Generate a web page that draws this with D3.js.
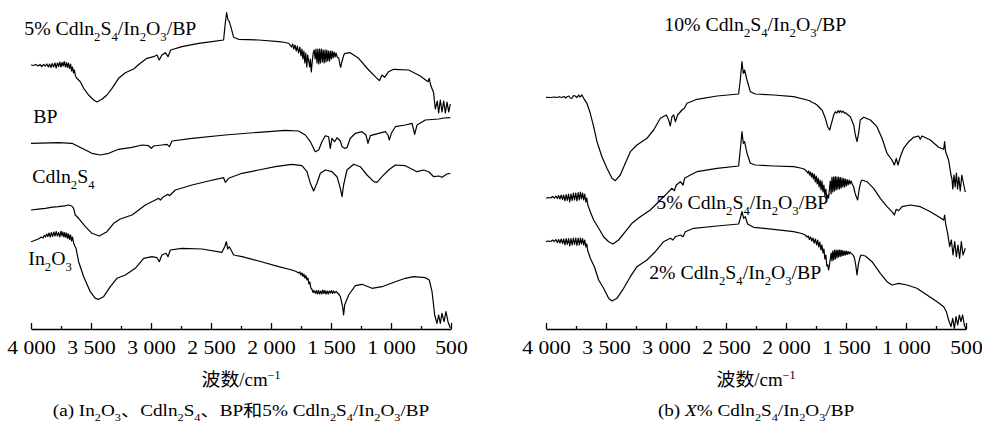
<!DOCTYPE html>
<html>
  <head>
    <meta charset="utf-8">
    <title>FTIR spectra</title>
<style>
  body { margin: 0; background-color: #fff; }
  #viz { width: 982px; height: 427px; }
  #viz text { font-family: "Liberation Serif", "Noto Sans CJK SC", serif; fill: #000; }
  #viz .curve { fill: none; stroke: #000; stroke-width: 1.2; stroke-linejoin: round; }
  #viz .axis path, #viz .axis line { stroke: #000; stroke-width: 1.3; }
</style>
  </head>
  <body>
    <div id="viz"></div>

  <script src="https://cdn.jsdelivr.net/npm/d3@7/dist/d3.min.js"></script>
  <script>

    // wavenumber ticks (cm-1)
    var wnTicks = [4000, 3500, 3000, 2500, 2000, 1500, 1000, 500];
    var wnMinor = [3750, 3250, 2750, 2250, 1750, 1250, 750];

    // spectra: [wavenumber, transmittance (a.u., offset)]
    // (a) panel
    var spec5a = [[4000,264],[3980,263.5],[3960,264.5],[3940,263],[3925,264.5],[3910,262.5],[3895,264.5],[3880,263],
      [3868,265],[3856,262],[3845,265],[3834,261.5],[3823,265.5],[3812,262],[3800,266],[3790,261],[3780,266],[3770,262.5],
      [3760,267],[3750,262],[3741,266.5],[3732,263],[3723,267.5],[3714,262],[3705,266.5],[3696,261.5],[3688,266],
      [3679,260.5],[3670,265],[3662,258],[3654,262],[3646,256],[3638,259],[3630,253],[3620,251],[3589,247.3],[3561,240.7],
      [3520,234],[3478,229],[3450,227],[3409,229.7],[3367,234],[3325,240.7],[3270,250.7],[3214,256.3],[3145,260],
      [3089,265.7],[3034,270.7],[2978,272.3],[2950,274],[2931,269],[2909,274],[2881,276.3],[2858,272.3],[2836,279],
      [2742,282.3],[2603,285.7],[2492,287.3],[2395,289],[2381,305.7],[2370,316.3],[2358,309],[2347,307.3],[2331,300.7],
      [2311,291.7],[2270,289.7],[2103,289],[1936,287.3],[1880,286.5],[1850,285.5],[1830,282],[1820,285],[1810,280],
      [1800,284],[1790,278],[1780,283],[1770,276],[1760,282],[1750,273],[1742,280],[1734,270],[1726,278],[1718,266],
      [1710,276],[1702,262],[1694,274],[1686,268],[1678,262],[1672,270],[1664,257],[1656,268],[1648,276],[1640,279],
      [1632,270],[1625,280],[1617,266],[1610,280],[1602,265],[1595,280],[1588,266],[1580,280],[1572,267],[1565,279],
      [1557,266],[1550,279],[1542,267],[1535,279],[1527,268],[1520,278],[1512,268],[1505,278],[1497,270],[1490,278],
      [1482,271],[1475,277],[1466,272],[1458,276],[1448,272],[1436,271],[1425,264],[1419,261.7],[1412,266],[1403,270],
      [1390,275],[1381,275.7],[1339,276.3],[1270,270.7],[1186,259],[1117,250.7],[1097,248.3],[1075,254],[1053,251.7],
      [1020,257.3],[978,259.7],[853,259],[756,253],[692,247.3],[681,250.7],[670,244],[645,236.3],[631,220],[614,228],
      [603,216],[589,229],[575,217],[561,228],[547,216],[533,227],[519,217],[506,225]];

    var specBP = [[4000,185.7],[3770,186.3],[3659,185.7],[3575,180.7],[3492,175.7],[3422,174],[3353,175.7],[3270,179.7],
      [3159,181.7],[3075,184],[3020,183.3],[2997,180.7],[2978,183],[2909,184],[2867,184.7],[2847,182.3],[2825,188],
      [2658,190.7],[2381,194],[2103,196.7],[1881,198.7],[1770,198],[1714,194],[1672,187.3],[1631,177.3],[1603,179],
      [1575,187.3],[1547,193.3],[1520,192.3],[1506,180.7],[1492,190.7],[1470,187.3],[1450,191.3],[1422,188],[1408,182.3],
      [1386,180.7],[1367,181.3],[1339,190.7],[1297,195.7],[1242,197.3],[1208,194],[1192,185.7],[1172,193.3],[1103,195.7],
      [1047,197.3],[1025,194],[1014,189],[997,195.7],[964,202.3],[881,204],[825,205.7],[811,199],[803,194.7],[783,204],
      [714,209],[603,210],[560,211],[506,211.3]];

    var specCdIn2S4 = [[4000,119],[3940,119.8],[3881,120.7],[3820,121.8],[3770,122.3],[3720,123.2],[3686,124],[3660,123],
      [3645,120.7],[3631,114],[3603,110.7],[3547,102.3],[3492,95.7],[3431,93],[3367,97.3],[3311,105.7],[3256,110],
      [3158,114],[3047,124],[2964,129],[2936,130.7],[2922,129],[2895,132.3],[2858,134.7],[2847,133.3],[2797,139],
      [2658,144],[2520,148],[2395,151.3],[2381,146.7],[2353,150.7],[2242,155.7],[2103,159],[1964,162.3],[1825,164.7],
      [1742,163.3],[1700,157.3],[1672,145.7],[1645,138],[1617,145.7],[1589,155.7],[1547,159],[1492,157.3],[1450,152.3],
      [1422,140.7],[1408,132.3],[1395,144],[1367,159],[1311,164.7],[1256,162.3],[1200,154],[1144,147.3],[1117,146.7],
      [1075,152.3],[1020,159],[964,164],[881,163.3],[783,157.3],[728,159],[686,157.3],[644,152.3],[603,153],[575,151.7],
      [533,155],[506,155.7]];

    var specIn2O3 = [[4000,87.3],[3970,88.5],[3950,89.5],[3930,90.5],[3915,92],[3900,91],[3890,93.5],[3880,92],[3870,95],
      [3860,92.5],[3850,96],[3840,92],[3830,96.5],[3820,92.5],[3810,97],[3800,93],[3790,97.5],[3780,93],[3770,96.5],
      [3760,92],[3750,98],[3742,93],[3734,97],[3726,92],[3718,96.5],[3710,91.5],[3702,96],[3694,90.5],[3686,95],
      [3678,89.5],[3670,94],[3662,88],[3654,92],[3645,86],[3635,83],[3625,80.7],[3603,67.3],[3561,52.3],[3506,37.3],
      [3464,30.7],[3436,29.7],[3395,32.3],[3339,42.3],[3284,50.7],[3214,54],[3131,60.7],[3061,70.7],[2992,72.3],
      [2950,71.3],[2931,67.3],[2909,74],[2875,75.7],[2858,72.3],[2839,79],[2742,80.7],[2575,80],[2409,76.7],[2386,82.3],
      [2372,87.3],[2361,80],[2347,82.3],[2311,74],[2242,72.3],[2103,68],[1936,62.3],[1825,59],[1790,57.5],[1770,56],
      [1760,57],[1750,54],[1742,56],[1734,52.5],[1726,55],[1718,51],[1710,53.5],[1700,49],[1692,51],[1684,45],[1676,47],
      [1668,41],[1660,40],[1650,36.5],[1642,38.5],[1631,35.7],[1622,38.5],[1613,35],[1604,38.5],[1595,35],[1586,38],
      [1577,35],[1568,39],[1559,35.5],[1550,38.5],[1541,35],[1532,38],[1523,35],[1514,38],[1505,36],[1496,38.5],
      [1487,35.5],[1478,38],[1468,36],[1458,37.5],[1445,36],[1430,34],[1422,32.3],[1403,22.3],[1395,14],[1386,24],
      [1353,34],[1297,43.3],[1242,44.7],[1158,40.7],[1075,42.3],[964,47.3],[881,50.7],[811,52.3],[714,51.3],[681,49],
      [658,37.3],[636,14],[617,5.7],[603,14],[589,5.7],[575,15.7],[558,7.3],[542,17.3],[525,7.3],[506,1]];

    // (b) panel
    var spec10b = [[4000,231.7],[3960,231.5],[3930,232],[3909,231.5],[3890,232.3],[3870,231.5],[3850,232.5],[3835,231],
      [3825,232.3],[3810,233],[3798,231],[3784,230.7],[3770,233.5],[3756,233],[3742,231.5],[3728,234],[3718,232],
      [3709,233],[3700,234],[3686,230.7],[3659,225.7],[3631,215.7],[3603,202.3],[3575,187.3],[3534,172.3],[3492,160.7],
      [3450,150.7],[3422,148.3],[3381,154],[3339,165.7],[3297,177.3],[3242,184],[3159,190.7],[3103,199],[3047,210.7],
      [2997,214],[2978,209],[2964,203],[2950,212.3],[2936,214],[2922,207.3],[2903,214],[2867,219],[2847,220.7],[2825,225.7],
      [2742,229.7],[2575,233],[2395,235],[2381,249],[2367,267.3],[2356,255.7],[2345,259],[2325,249],[2297,237.3],
      [2256,235],[2103,234],[1936,232.3],[1825,229],[1800,228],[1780,226.5],[1760,225.5],[1742,224],[1725,222],
      [1710,220],[1700,219],[1672,210.7],[1653,202.3],[1636,199],[1617,207.3],[1600,215],[1589,217.3],[1575,216],
      [1565,218.5],[1555,216.5],[1547,218.3],[1535,216.5],[1525,218],[1515,216],[1506,216.3],[1464,212.3],[1436,204],
      [1422,194],[1408,187.3],[1395,195.7],[1381,209],[1353,211.7],[1297,209],[1242,202.3],[1200,190.7],[1158,175.7],
      [1117,169],[1097,164],[1081,170.7],[1067,164],[1047,172.3],[1020,180.7],[978,187.3],[936,191.7],[895,193],
      [881,189.7],[867,193],[797,189],[728,181.7],[686,179.7],[678,187.3],[670,177.3],[645,169],[625,154],[617,150],
      [610,140],[600,154],[590,142],[580,156],[570,140],[560,152],[548,138],[535,154],[520,145],[506,137]];

    var spec5b = [[4000,130.7],[3980,131.5],[3960,131],[3945,132.5],[3930,131],[3918,133],[3906,130.5],[3895,133.5],
      [3884,130],[3873,134],[3862,129.5],[3852,134],[3842,128],[3832,134.5],[3822,128.5],[3812,135],[3802,127],[3792,135],
      [3782,128.5],[3772,136],[3762,129],[3752,136],[3742,128],[3732,136.5],[3722,129],[3713,137],[3704,130],[3695,136],
      [3686,129],[3677,135],[3668,127],[3660,131],[3652,124],[3642,121],[3631,117.3],[3603,109],[3561,100.7],[3520,92.3],
      [3478,87.3],[3442,85],[3395,89],[3339,97.3],[3284,105.7],[3214,112.3],[3131,119],[3061,127.3],[2992,135.7],
      [2950,140.7],[2931,138.3],[2914,144],[2881,147.3],[2858,144],[2845,150.7],[2797,154],[2742,157.3],[2575,160.7],
      [2395,163],[2381,179],[2367,197.3],[2356,185.7],[2345,187.3],[2325,175.7],[2297,165.7],[2256,164],[2103,163],
      [1936,162.3],[1880,161],[1850,160],[1830,158],[1820,156],[1812,158],[1804,154],[1796,157],[1788,152],[1780,156],
      [1772,150],[1764,155],[1756,147],[1748,153],[1740,145],[1732,151],[1724,142],[1716,149],[1708,139],[1700,148],
      [1692,137],[1684,144],[1676,133],[1668,140],[1660,130],[1652,134],[1645,131],[1638,140],[1631,148],[1624,135],
      [1617,152],[1610,137],[1603,152],[1596,138],[1589,152.5],[1582,139],[1575,152],[1568,140],[1561,152],[1554,140],
      [1547,151.5],[1540,141],[1533,151],[1526,142],[1519,150.5],[1512,142],[1505,150],[1497,143],[1490,149.5],
      [1482,144],[1474,149],[1466,145],[1458,148],[1448,145],[1436,142],[1425,136],[1414,132.3],[1403,129],[1392,138],
      [1386,142.3],[1375,147.5],[1367,149],[1325,147.3],[1270,140.7],[1214,130.7],[1158,122.3],[1117,117.3],[1097,114],
      [1081,119.7],[1061,118.3],[1033,122.3],[964,124],[881,122.3],[797,117.3],[728,112.3],[686,109],[678,114],
      [670,105.7],[653,95.7],[636,82.3],[622,89],[608,74],[594,87.3],[580,72.3],[567,84],[553,70.7],[539,87.3],[525,74],
      [506,80.7]];

    var spec2b = [[4000,87.3],[3980,88],[3960,87.5],[3945,89],[3930,87.5],[3918,89.5],[3906,86.5],[3895,89.5],[3884,86],
      [3873,90],[3862,85.5],[3852,90],[3842,84],[3832,90.5],[3822,84.5],[3812,90.5],[3802,83],[3792,90.5],[3782,84],
      [3772,91],[3762,84.5],[3752,91],[3742,83.5],[3732,91],[3722,84],[3713,91],[3704,85],[3695,90.5],[3686,84],[3677,89],
      [3668,82],[3660,85],[3652,78],[3642,75],[3631,70.7],[3597,62.3],[3561,49],[3520,40.7],[3478,30.7],[3450,28],
      [3409,30.7],[3353,40.7],[3297,52.3],[3242,62.3],[3159,69],[3089,77.3],[3020,87.3],[2964,90.7],[2942,89],[2922,92.3],
      [2881,94],[2858,92.3],[2839,97.3],[2770,100.7],[2575,103],[2395,105],[2381,110.7],[2367,117.3],[2353,110.7],
      [2339,112.3],[2320,105],[2270,101.7],[2103,99.7],[1936,97.3],[1870,95.5],[1840,94],[1825,92],[1815,93],[1805,89.5],
      [1795,92],[1785,88],[1775,91],[1765,86],[1755,90],[1745,84],[1736,89],[1727,82],[1718,87],[1709,79],[1700,84],
      [1692,76],[1684,80],[1676,70],[1668,74],[1660,63],[1652,64],[1645,59],[1638,64],[1631,70],[1624,76],[1617,68],
      [1610,78],[1603,69],[1596,79],[1589,70],[1582,79],[1575,71],[1568,79],[1561,72],[1554,79],[1547,72.5],[1540,79],
      [1533,73],[1526,78.5],[1519,73.5],[1512,78],[1505,74],[1497,78],[1490,74.5],[1482,77.5],[1474,75],[1466,77],
      [1458,75.5],[1448,75],[1436,73],[1428,70],[1419,64],[1408,54],[1400,62],[1395,65.7],[1385,71],[1375,74],[1339,73],
      [1283,67.3],[1214,55.7],[1158,47.3],[1117,44],[1061,45.7],[992,44],[909,40.7],[825,34],[741,27.3],[686,22.3],
      [664,17.3],[645,9],[625,2.3],[611,10.7],[597,0.7],[583,12.3],[569,4],[555,14],[542,7.3],[528,14],[514,4],[500,0]];

    var captionA = "(a) In_{2}O_{3}、Cdln_{2}S_{4}、BP和5% Cdln_{2}S_{4}/In_{2}O_{3}/BP";
    var captionB = "(b) *X*% Cdln_{2}S_{4}/In_{2}O_{3}/BP";
    var xTitle = "波数/cm^{−1}";

    var width = 420, height = 329;

    var svg = d3.select("#viz").append("svg")
        .attr("width", 982)
        .attr("height", 427);

    // writes "_{..}" as subscript, "^{..}" as superscript, "*..*" as italic
    function richText(sel, str, size) {
      var parts = str.split(/(_\{[^}]*\}|\^\{[^}]*\}|\*[^*]*\*)/);
      var shift = 0;
      parts.forEach(function(p) {
        if (!p) return;
        var t = sel.append("tspan");
        if (p[0] == "_" || p[0] == "^") {
          var s = p[0] == "_" ? size * 0.32 : -size * 0.4;
          t.attr("dy", s - shift).style("font-size", (size * 0.64) + "px").text(p.slice(2, -1));
          shift = s;
        } else {
          t.attr("dy", -shift).style("font-size", size + "px");
          if (p[0] == "*") t.style("font-style", "italic").text(p.slice(1, -1));
          else t.text(p);
          shift = 0;
        }
      });
    }

    // text stretched a little wider, like the scanned figure
    function addText(g, str, px, py, anchor, size, sx) {
      var t = g.append("text")
          .attr("transform", "translate(" + px + "," + py + ") scale(" + sx + ",1)")
          .style("text-anchor", anchor);
      richText(t, str, size);
      return t;
    }

    function panel(left, curves, labels, caption) {
      var x = d3.scaleLinear().domain([4000, 500]).range([0, width]);
      var y = d3.scaleLinear().domain([0, height]).range([height, 0]);

      var g = svg.append("g").attr("transform", "translate(" + left + ",0)");

      var line = d3.line()
          .x(function(d) { return x(d[0]); })
          .y(function(d) { return y(d[1]); });

      g.selectAll(".curve")
          .data(curves)
        .enter().append("path")
          .attr("class", "curve")
          .attr("d", line);

      // major ticks point up into the plot
      g.append("g")
          .attr("class", "axis")
          .attr("transform", "translate(0," + height + ")")
          .call(d3.axisBottom(x).tickValues(wnTicks).tickSizeInner(-6).tickSizeOuter(0).tickPadding(12)
            .tickFormat(function(d) { return d3.format(",")(d).replace(",", " "); }))
          .call(function(a) {
            a.selectAll("text").style("font-size", "18px").attr("transform", "scale(1.2,1)");
          });

      g.append("g")
          .attr("class", "axis")
          .attr("transform", "translate(0," + height + ")")
          .call(d3.axisBottom(x).tickValues(wnMinor).tickSizeInner(-3).tickSizeOuter(0).tickFormat(""))
          .select(".domain").remove();

      labels.forEach(function(l) {
        addText(g, l.text, x(l.wn), y(l.t), l.anchor, 18, 1.1);
      });

      addText(g, xTitle, width / 2, height + 57, "middle", 18, 1.05);
      addText(g, caption, width / 2, height + 87, "middle", 16, 1.2);
    }

    panel(31, [spec5a, specBP, specCdIn2S4, specIn2O3], [
      {text: "5% Cdln_{2}S_{4}/In_{2}O_{3}/BP", wn: 4056, t: 294, anchor: "start"},
      {text: "BP", wn: 3981, t: 206, anchor: "start"},
      {text: "Cdln_{2}S_{4}", wn: 3989, t: 146, anchor: "start"},
      {text: "In_{2}O_{3}", wn: 4022, t: 64, anchor: "start"}
    ], captionA);

    panel(546, [spec10b, spec5b, spec2b], [
      {text: "10% Cdln_{2}S_{4}/In_{2}O_{3}/BP", wn: 2256, t: 298, anchor: "middle"},
      {text: "5% Cdln_{2}S_{4}/In_{2}O_{3}/BP", wn: 2364, t: 120, anchor: "middle"},
      {text: "2% Cdln_{2}S_{4}/In_{2}O_{3}/BP", wn: 2423, t: 50, anchor: "middle"}
    ], captionB);

  </script>
  </body>
</html>
